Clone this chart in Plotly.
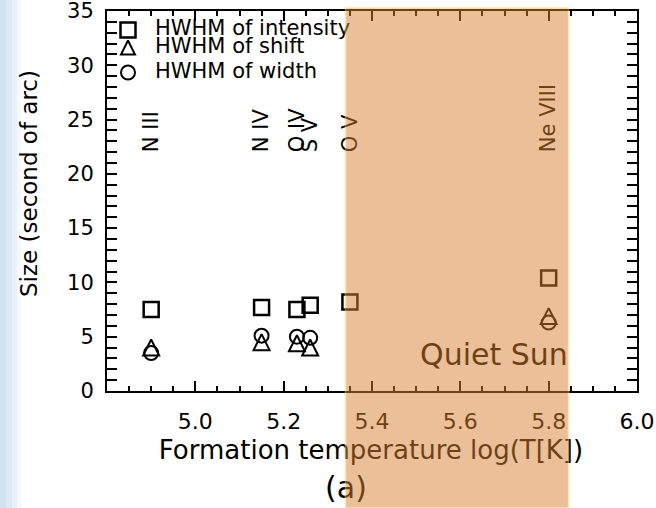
import plotly.graph_objects as go

# Spectral lines and their formation temperatures log(T[K])
ions = ["N III", "N IV", "O IV", "S V", "O V", "Ne VIII"]
log_t = [4.90, 5.15, 5.23, 5.26, 5.35, 5.80]

# Half width at half maximum of each quantity (arcsec)
hwhm_intensity = [7.5, 7.7, 7.5, 7.9, 8.2, 10.4]
hwhm_shift = [4.0, 4.5, 4.4, 4.0, None, 6.9]
hwhm_width = [3.5, 5.1, 5.0, 4.9, None, 6.3]

legend_names = ["HWHM of intensity", "HWHM of shift", "HWHM of width"]

x_tick_vals = [5.0, 5.2, 5.4, 5.6, 5.8, 6.0]
y_tick_vals = [0, 5, 10, 15, 20, 25, 30, 35]

# Temperature interval shaded as the quiet-Sun range
quiet_sun_band = [5.34, 5.845]

# ---- layout geometry (pixels) ----------------------------------------------
W, H = 656, 508
ML, MR, MT, MB = 107, 19, 11, 117
X_RANGE = [4.8, 6.0]
Y_RANGE = [0, 35]
ION_LABEL_BASE = 22.0
FONT = "DejaVu Sans"
PH = H - MT - MB

fig = go.Figure()

sq_style = dict(symbol="square-open", size=15, color="black", line=dict(width=2.5, color="black"))
tri_style = dict(symbol="arrow-down-open", angle=180, standoff=8, size=16,
                 color="black", line=dict(width=2, color="black"))
circ_style = dict(symbol="circle-open", size=14, color="black", line=dict(width=2, color="black"))

fig.add_trace(go.Scatter(x=log_t, y=hwhm_intensity, mode="markers", marker=sq_style,
                         name=legend_names[0], showlegend=False))
fig.add_trace(go.Scatter(x=log_t, y=hwhm_shift, mode="markers", marker=tri_style,
                         name=legend_names[1], showlegend=False))
fig.add_trace(go.Scatter(x=log_t, y=hwhm_width, mode="markers", marker=circ_style,
                         name=legend_names[2], showlegend=False))

# Carrier trace for the ion-label axis
fig.add_trace(go.Scatter(x=[log_t[0]], y=[None], xaxis="x2", yaxis="y",
                         showlegend=False, hoverinfo="skip"))

# ---- annotation layer: a full-page subplot in pixel units ------------------
key_rows = [30, 47.5, 72.5]
key_styles = [sq_style, dict(tri_style, size=14, standoff=7), circ_style]
for style, row in zip(key_styles, key_rows):
    fig.add_trace(go.Scatter(x=[128], y=[row], mode="markers", marker=style,
                             xaxis="x3", yaxis="y3", showlegend=False, hoverinfo="skip"))
fig.add_trace(go.Scatter(x=[155] * 3, y=key_rows, mode="text", text=legend_names,
                         textposition="middle right", xaxis="x3", yaxis="y3",
                         textfont=dict(family=FONT, size=21, color="black"),
                         showlegend=False, hoverinfo="skip"))
fig.add_trace(go.Scatter(x=[494, 371, 346], y=[357, 452, 490], mode="text",
                         text=["Quiet Sun", "Formation temperature log(T[K])", "(a)"],
                         textposition="middle center", xaxis="x3", yaxis="y3",
                         textfont=dict(family=FONT, size=[30, 26, 30], color="black"),
                         showlegend=False, hoverinfo="skip"))

axis_common = dict(showgrid=False, zeroline=False, showline=True, linecolor="black",
                   linewidth=2, mirror="allticks", ticks="inside", tickcolor="black",
                   tickwidth=1.5, ticklen=10, ticklabeloverflow="allow")

fig.update_layout(
    width=W, height=H,
    margin=dict(l=0, r=0, t=0, b=0, pad=0, autoexpand=False),
    paper_bgcolor="white", plot_bgcolor="rgba(0,0,0,0)",
    showlegend=False,
    xaxis=dict(domain=[ML / W, 1 - MR / W], range=X_RANGE, anchor="y",
               tickmode="array", tickvals=x_tick_vals, tickformat=".1f",
               minor=dict(tickmode="linear", tick0=4.8, dtick=0.05, ticks="inside",
                          ticklen=5, tickwidth=1.5, tickcolor="black"),
               ticklabelstandoff=10,
               tickfont=dict(family=FONT, size=22, color="black"), **axis_common),
    yaxis=dict(domain=[MB / H, 1 - MT / H], range=Y_RANGE, anchor="x",
               tickmode="array", tickvals=y_tick_vals,
               minor=dict(tickmode="linear", tick0=0, dtick=1, ticks="inside",
                          ticklen=5, tickwidth=1.5, tickcolor="black"),
               ticklabelstandoff=7,
               tickfont=dict(family=FONT, size=21, color="black"), **axis_common),
    xaxis2=dict(overlaying="x", anchor="free",
                position=(MB + ION_LABEL_BASE / Y_RANGE[1] * PH) / H,
                side="top", range=X_RANGE, tickmode="array", tickvals=log_t, ticktext=ions,
                tickangle=-90, showline=False, ticks="", showgrid=False, zeroline=False,
                ticklabeloverflow="allow",
                tickfont=dict(family=FONT, size=21, color="black")),
    xaxis3=dict(domain=[0, 1], range=[0, W], anchor="y3", visible=False, fixedrange=True),
    yaxis3=dict(domain=[0, 1], range=[H, 0], anchor="x3", visible=False, fixedrange=True),
)

fig.add_annotation(text="Size (second of arc)", xref="paper", yref="paper",
                   x=29 / W, y=(H - 184) / H, textangle=-90, showarrow=False,
                   xanchor="center", yanchor="middle",
                   font=dict(family=FONT, size=23, color="black"))

# Soft blue strip along the left edge
for x0, x1, col in [(0, 6, "rgb(210,225,242)"), (6, 12, "rgb(221,233,247)"),
                    (12, 17, "rgb(234,241,250)"), (17, 21, "rgb(245,249,253)")]:
    fig.add_shape(type="rect", xref="paper", yref="paper", layer="below",
                  x0=x0 / W, x1=x1 / W, y0=0, y1=1,
                  fillcolor=col, line=dict(width=0))

# Quiet-Sun temperature band over everything in the plot
fig.add_shape(type="rect", xref="x", yref="paper", layer="above",
              x0=quiet_sun_band[0], x1=quiet_sun_band[1], y0=0, y1=(H - 8) / H,
              fillcolor="rgb(217,129,49)", opacity=0.5,
              line=dict(width=1.5, color="rgb(255,205,110)"))

fig.write_html("out.html")
